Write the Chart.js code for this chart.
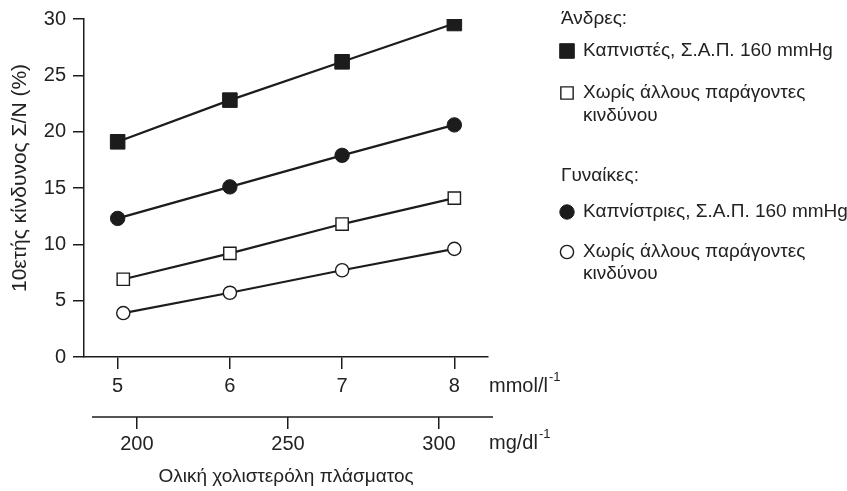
<!DOCTYPE html>
<html>
<head>
<meta charset="utf-8">
<script src="https://cdn.jsdelivr.net/npm/chart.js@4/dist/chart.umd.min.js"></script>
<style>
  html, body { margin: 0; padding: 0; background: #fff; }
</style>
</head>
<body>
<canvas id="chart" width="847" height="491"></canvas>
<script>
// tick labels
const mmolTicks = [5, 6, 7, 8];
const mgdlTicks = [200, 250, 300];
const riskTicks = [0, 5, 10, 15, 20, 25, 30];

// series (x in mmol/l, y = 10-year CVD risk %)
const menSmokersX = [5, 6, 7, 8];
const menSmokers = [19.1, 22.8, 26.2, 29.6];
const menNoRiskX = [5.05, 6, 7, 8];
const menNoRisk = [6.9, 9.2, 11.8, 14.1];
const womenSmokersX = [5, 6, 7, 8];
const womenSmokers = [12.3, 15.1, 17.9, 20.6];
const womenNoRiskX = [5.05, 6, 7, 8];
const womenNoRisk = [3.9, 5.7, 7.7, 9.6];

const seriesLabels = [
  "Καπνιστές, Σ.Α.Π. 160 mmHg",
  "Χωρίς άλλους παράγοντες κινδύνου",
  "Καπνίστριες, Σ.Α.Π. 160 mmHg",
  "Χωρίς άλλους παράγοντες κινδύνου",
];

const INK = "#1c1c1c";
const TEXT = "#222";
const FONT = "'Liberation Sans', Arial, Helvetica, sans-serif";

function toPoints(xs, ys) {
  return xs.map((x, i) => ({ x: x, y: ys[i] }));
}

function series(label, xs, ys, style, radius, filled) {
  return {
    label: label,
    data: toPoints(xs, ys),
    borderColor: INK,
    borderWidth: 2.2,
    tension: 0,
    pointStyle: style,
    pointRadius: radius,
    pointHoverRadius: radius,
    pointBackgroundColor: filled ? INK : "#fff",
    pointBorderColor: INK,
    pointBorderWidth: filled ? 1 : 1.4,
  };
}

function marker(ctx, ds, x, y) {
  const r = ds.pointRadius;
  ctx.save();
  ctx.fillStyle = ds.pointBackgroundColor;
  ctx.strokeStyle = ds.pointBorderColor;
  ctx.lineWidth = ds.pointBorderWidth;
  ctx.beginPath();
  if (ds.pointStyle === "rect") {
    const s = Math.SQRT1_2 * r;
    ctx.rect(x - s, y - s, 2 * s, 2 * s);
  } else {
    ctx.arc(x, y, r, 0, Math.PI * 2);
  }
  ctx.fill();
  ctx.stroke();
  ctx.restore();
}

// right side legend with group headers and wrapped lines
const legendPlugin = {
  id: "groupLegend",
  afterDraw(chart) {
    const ctx = chart.ctx;
    const ds = chart.data.datasets;
    const x0 = 561, tx = 583;
    ctx.save();
    ctx.fillStyle = TEXT;
    ctx.font = "19px " + FONT;
    ctx.textBaseline = "middle";
    ctx.textAlign = "left";

    ctx.fillText("Άνδρες:", x0, 19);
    marker(ctx, ds[0], 567, 51);
    ctx.fillText("Καπνιστές, Σ.Α.Π. 160 mmHg", tx, 51);
    marker(ctx, ds[1], 567, 93);
    ctx.fillText("Χωρίς άλλους παράγοντες", tx, 93);
    ctx.fillText("κινδύνου", tx, 116);

    ctx.fillText("Γυναίκες:", x0, 176);
    marker(ctx, ds[2], 567, 212);
    ctx.fillText("Καπνίστριες, Σ.Α.Π. 160 mmHg", tx, 212);
    marker(ctx, ds[3], 567, 252);
    ctx.fillText("Χωρίς άλλους παράγοντες", tx, 252);
    ctx.fillText("κινδύνου", tx, 274);
    ctx.restore();
  },
};

// unit labels, y title and the offset mg/dl axis line
const extrasPlugin = {
  id: "extras",
  afterDraw(chart) {
    const ctx = chart.ctx;
    const area = chart.chartArea;
    const x = chart.scales.x;
    const x2 = chart.scales.x2;
    const left = area.right + 1;
    function unit(text, y) {
      ctx.font = "20px " + FONT;
      ctx.fillText(text, left, y);
      const w = ctx.measureText(text).width;
      ctx.font = "13px " + FONT;
      ctx.fillText("-1", left + w + 1, y - 9);
    }
    ctx.save();
    ctx.fillStyle = TEXT;
    ctx.textBaseline = "middle";
    ctx.textAlign = "left";
    unit("mmol/l", x.top + 29);
    unit("mg/dl", x2.top + 26);

    // second axis line, shifted slightly right of the first
    ctx.strokeStyle = INK;
    ctx.lineWidth = 1.5;
    ctx.beginPath();
    ctx.moveTo(area.left + 8, x2.top);
    ctx.lineTo(area.right + 5, x2.top);
    ctx.stroke();

    // rotated y title
    ctx.translate(20, (area.top + area.bottom) / 2 - 10);
    ctx.rotate(-Math.PI / 2);
    ctx.textAlign = "center";
    ctx.font = "21px " + FONT;
    ctx.fillText("10ετής κίνδυνος Σ/Ν (%)", 0, 0);
    ctx.restore();
  },
};

const axisLine = { display: true, color: INK, width: 1.5 };
const outerTicks = (len) => ({ drawOnChartArea: false, drawTicks: true, tickLength: len, color: INK, lineWidth: 1.5 });

new Chart(document.getElementById("chart"), {
  type: "line",
  data: {
    datasets: [
      series(seriesLabels[0], menSmokersX, menSmokers, "rect", 10.3, true),
      series(seriesLabels[1], menNoRiskX, menNoRisk, "rect", 8.7, false),
      series(seriesLabels[2], womenSmokersX, womenSmokers, "circle", 7.2, true),
      series(seriesLabels[3], womenNoRiskX, womenNoRisk, "circle", 6.6, false),
    ],
  },
  options: {
    responsive: false,
    animation: false,
    devicePixelRatio: 1,
    layout: { padding: { left: 0, top: 16, right: 359, bottom: 0 } },
    plugins: { legend: { display: false }, tooltip: { enabled: false } },
    scales: {
      x: {
        type: "linear",
        position: "bottom",
        weight: 0,
        min: 4.7,
        max: 8.3,
        afterBuildTicks: (s) => { s.ticks = mmolTicks.map((v) => ({ value: v })); },
        afterFit: (s) => { s.height = 60; },
        ticks: { color: TEXT, font: { size: 20, family: FONT }, padding: 5, maxRotation: 0 },
        grid: outerTicks(12),
        border: axisLine,
      },
      x2: {
        type: "linear",
        position: "bottom",
        weight: 1,
        min: 182.5,
        max: 316.2,
        afterBuildTicks: (s) => { s.ticks = mgdlTicks.map((v) => ({ value: v })); },
        afterFit: (s) => { s.height = 74; },
        ticks: { color: TEXT, font: { size: 20, family: FONT }, padding: 3, maxRotation: 0 },
        grid: outerTicks(12),
        border: { display: false },
        title: {
          display: true,
          text: "Ολική χολιστερόλη πλάσματος",
          color: TEXT,
          font: { size: 19, family: FONT },
          padding: { top: 0, bottom: 3 },
        },
      },
      y: {
        type: "linear",
        min: 0,
        max: 30,
        afterBuildTicks: (s) => { s.ticks = riskTicks.map((v) => ({ value: v })); },
        afterFit: (s) => { s.width = 84; },
        ticks: { color: TEXT, font: { size: 20, family: FONT }, padding: 7 },
        grid: outerTicks(11),
        border: axisLine,
      },
    },
  },
  plugins: [legendPlugin, extrasPlugin],
});
</script>
</body>
</html>
